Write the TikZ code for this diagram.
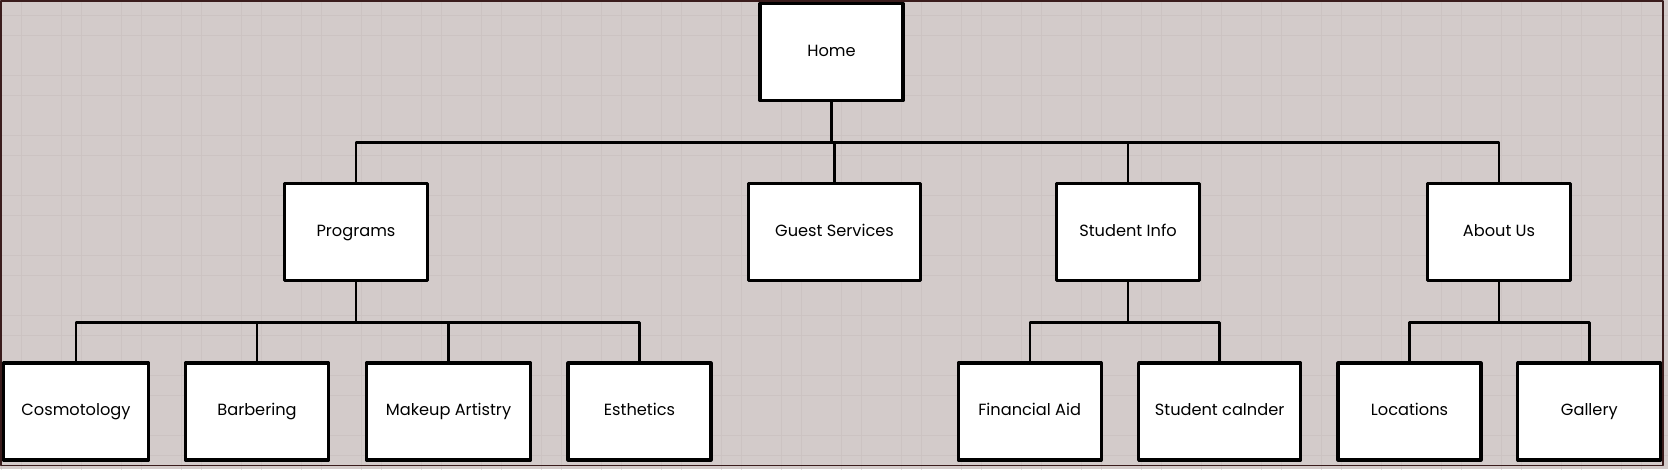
\documentclass[tikz,border=0pt]{standalone}
\usepackage{fontspec}
\setmainfont{Poppins}
\usepackage{tikz}
\definecolor{paper}{HTML}{D3CBCA}
\definecolor{gridline}{HTML}{CCC3C2}
\definecolor{frame}{HTML}{3A1C1C}
\begin{document}
\begin{tikzpicture}[x=1pt,y=-1pt,line cap=round,line join=round,
                page/.style={draw=black,fill=white,line width=3.2pt,minimum width=143pt,
                             minimum height=97pt,inner sep=0pt,text height=12pt,text depth=4pt,
                             font=\fontsize{16.2}{19}\selectfont},
                link/.style={draw=black,line width=2.4pt,line cap=butt}]
            \fill[paper] (0,0) rectangle (1668,469);
            \useasboundingbox (0,0) rectangle (1668,469);
            \foreach \k in {0,...,27}
            {\draw[gridline,line width=1pt] (1.7+60*\k,0) -- (1.7+60*\k,469);
             \draw[gridline,line width=1pt] (21.7+60*\k,0) -- (21.7+60*\k,469);}
            \foreach \k in {0,...,7}
            {\draw[gridline,line width=1pt] (0,15+60*\k) -- (1668,15+60*\k);
             \draw[gridline,line width=1pt] (0,35+60*\k) -- (1668,35+60*\k);}
            \draw[frame,line width=1.5pt] (0.75,0.75) rectangle (1663,465.5);

            \node (home) at (831.5,52) [page] {Home};

            \node (prog) at (356,232) [page] {Programs};
            \node (guest) at (834.5,232) [page,minimum width=172pt] {Guest Services};
            \node (info) at (1128,232) [page] {Student Info};
            \node (about) at (1499,232) [page] {About Us};

            \node (cosmo) at (76,411.5) [page,minimum width=145pt] {Cosmotology};
            \node (barb) at (257,411.5) [page] {Barbering};
            \node (makeup) at (448.5,411.5) [page,minimum width=164pt] {Makeup Artistry};
            \node (esth) at (639.5,411.5) [page] {Esthetics};
            \node (aid) at (1029.7,411.5) [page] {Financial Aid};
            \node (cal) at (1219.6,411.5) [page,minimum width=162pt] {Student calnder};
            \node (loc) at (1409.5,411.5) [page] {Locations};
            \node (gal) at (1589.3,411.5) [page] {Gallery};

            \coordinate (top) at (831.5,142.5);
            \coordinate (pbar) at (356,322.3);
            \coordinate (ibar) at (1128,322.3);
            \coordinate (abar) at (1499,322.3);

            \draw[link] (home.south) -- (top);
            \draw[link] (prog.north) |- (top) -| (about.north);
            \draw[link] (guest.north) -- (guest.north |- top);
            \draw[link] (info.north) -- (info.north |- top);

            \draw[link] (prog.south) -- (pbar);
            \draw[link] (cosmo.north) |- (pbar) -| (esth.north);
            \draw[link] (barb.north) -- (barb.north |- pbar);
            \draw[link] (makeup.north) -- (makeup.north |- pbar);

            \draw[link] (info.south) -- (ibar);
            \draw[link] (aid.north) |- (ibar) -| (cal.north);

            \draw[link] (about.south) -- (abar);
            \draw[link] (loc.north) |- (abar) -| (gal.north);
        \end{tikzpicture}
\end{document}
